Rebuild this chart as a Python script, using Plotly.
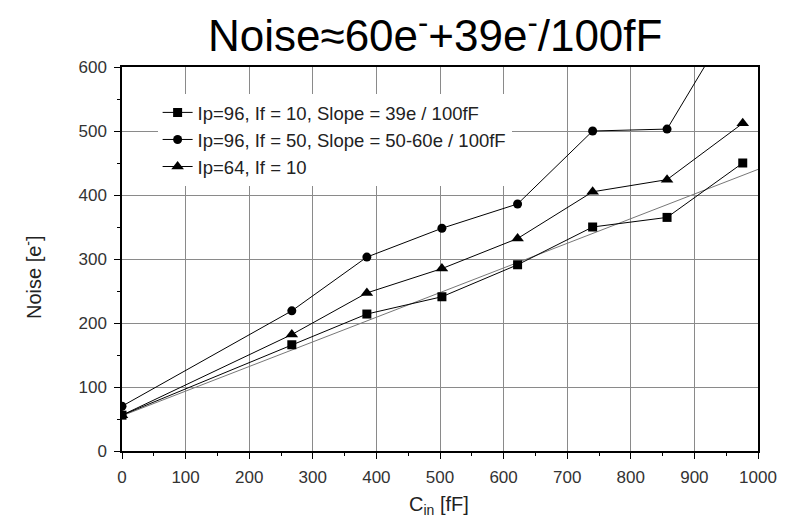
import plotly.graph_objects as go

# ---- data ----
cin = [0, 267, 385, 503, 622, 740, 857, 976]
noise_ip96_if10 = [56, 166, 214, 241, 291, 350, 365, 450]
noise_ip96_if50 = [70, 219, 303, 348, 386, 500, 503, 700]
noise_ip64_if10 = [56, 182, 247, 285, 332, 405, 424, 512]
fit_x = [0, 1000]
fit_y = [55, 440]

names = [
    "Ip=96, If = 10, Slope = 39e / 100fF",
    "Ip=96, If = 50, Slope = 50-60e / 100fF",
    "Ip=64, If = 10",
]
x_ticks = list(range(0, 1001, 100))
y_ticks = list(range(0, 601, 100))

FONT = "Liberation Sans, Arial, sans-serif"

fig = go.Figure()
fig.add_trace(go.Scatter(x=fit_x, y=fit_y, mode="lines",
                         line=dict(color="#777777", width=1), showlegend=False,
                         hoverinfo="skip"))
fig.add_trace(go.Scatter(x=cin, y=noise_ip96_if10, mode="lines+markers", name=names[0],
                         line=dict(color="black", width=1),
                         marker=dict(symbol="square", size=9, color="black")))
fig.add_trace(go.Scatter(x=cin, y=noise_ip96_if50, mode="lines+markers", name=names[1],
                         line=dict(color="black", width=1),
                         marker=dict(symbol="circle", size=9, color="black")))
fig.add_trace(go.Scatter(x=cin, y=noise_ip64_if10, mode="lines+markers", name=names[2],
                         line=dict(color="black", width=1),
                         marker=dict(symbol="triangle-up", size=11, color="black")))

axis_common = dict(
    showline=True, linecolor="black", linewidth=1.5, mirror=True,
    showgrid=True, gridcolor="#8a8a8a", gridwidth=1,
    ticks="outside", ticklen=6, tickcolor="black", tickwidth=1.2,
    tickfont=dict(family=FONT, size=17, color="#333333"),
    zeroline=False,
    minor=dict(ticks="outside", ticklen=3, tickcolor="black", dtick=50, showgrid=False),
)

fig.update_xaxes(range=[0, 1000], tickvals=x_ticks, ticklabelstandoff=4, **axis_common)
fig.update_yaxes(range=[0, 600], tickvals=y_ticks, ticklabelstandoff=4, **axis_common)

fig.update_layout(
    width=791, height=521, autosize=False,
    margin=dict(l=122, r=33, t=67, b=70),
    plot_bgcolor="white", paper_bgcolor="white",
    showlegend=True,
    legend=dict(x=0.056, y=0.93, xanchor="left", yanchor="top",
                bgcolor="white", borderwidth=0,
                font=dict(family=FONT, size=18.5, color="#222222")),
    shapes=[dict(type="rect", xref="paper", yref="paper", x0=0, x1=0.657, y0=0.674, y1=1,
                 fillcolor="white", line=dict(width=0), layer="between")],
    annotations=[
        dict(text="Noise≈60e<sup>-</sup>+39e<sup>-</sup>/100fF", xref="paper", yref="paper",
             x=0.492, y=(451 - 32) / 384, xanchor="center", yanchor="middle", showarrow=False,
             font=dict(family=FONT, size=44, color="black")),
        dict(text="Noise [e<sup>-</sup>]", xref="paper", yref="paper",
             x=(32 - 122) / 636, y=(451 - 277) / 384, xanchor="center", yanchor="middle",
             textangle=-90, showarrow=False, font=dict(family=FONT, size=20, color="#222222")),
        dict(text="C<sub>in</sub> [fF]", xref="paper", yref="paper",
             x=0.498, y=(451 - 505) / 384, xanchor="center", yanchor="middle",
             showarrow=False, font=dict(family=FONT, size=20, color="#222222")),
    ],
)

fig.write_html("out.html")
